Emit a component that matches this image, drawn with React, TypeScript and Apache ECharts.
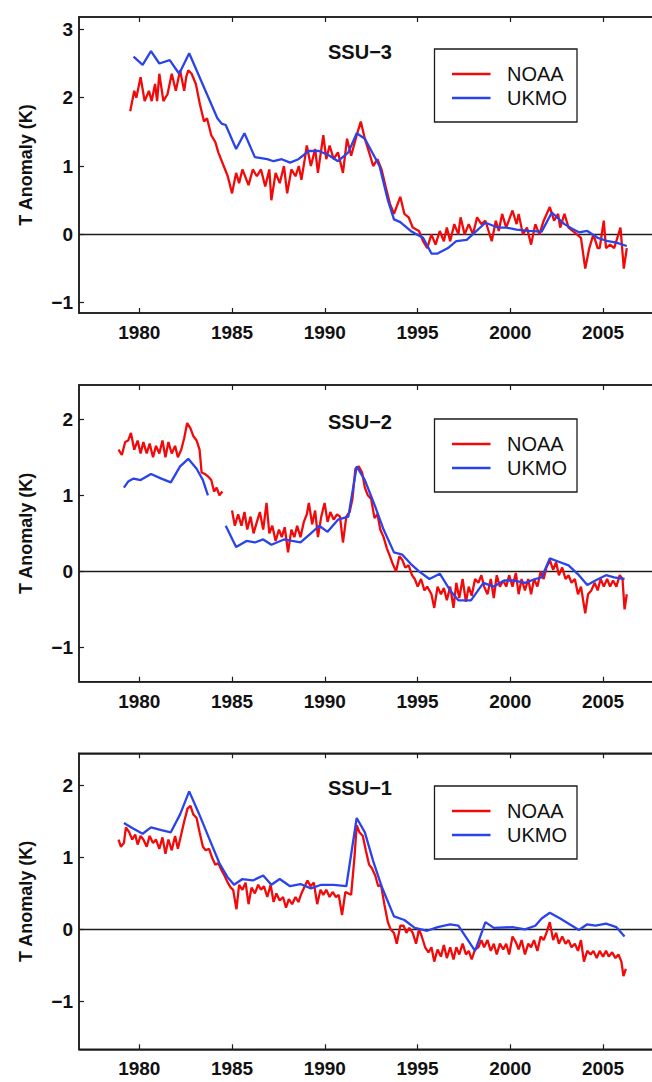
import React, { useEffect, useRef } from "react";
import * as echarts from "echarts";

// ---------- data ----------
const yearTicks = [1980, 1985, 1990, 1995, 2000, 2005];
const ssu3Ticks = [-1, 0, 1, 2, 3];
const ssu2Ticks = [-1, 0, 1, 2];
const ssu1Ticks = [-1, 0, 1, 2];
const panelTitles = ["SSU−3", "SSU−2", "SSU−1"];
const seriesNames = ["NOAA", "UKMO"];
const axisTitle = "T Anomaly (K)";

const ssu3Noaa: [number, number][] = [
  [1979.51, 1.8], [1979.73, 2.1], [1979.84, 2.0], [1980.07, 2.3], [1980.29, 1.95], [1980.52, 2.1], [1980.67, 1.95],
  [1980.85, 2.2], [1980.96, 1.95], [1981.08, 2.35], [1981.3, 1.95], [1981.52, 2.05], [1981.75, 2.35], [1981.97, 2.1],
  [1982.2, 2.4], [1982.42, 2.1], [1982.53, 2.3], [1982.64, 2.4], [1982.82, 2.35], [1983.05, 2.2], [1983.27, 1.9],
  [1983.49, 1.65], [1983.65, 1.7], [1983.88, 1.45], [1984.1, 1.35], [1984.26, 1.2], [1984.55, 1.0], [1984.77, 0.85],
  [1985.0, 0.6], [1985.22, 0.9], [1985.38, 0.75], [1985.56, 0.95], [1985.89, 0.72], [1986.12, 0.95], [1986.34, 0.85],
  [1986.56, 0.95], [1986.79, 0.7], [1987.01, 0.95], [1987.12, 0.5], [1987.35, 0.9], [1987.57, 0.75], [1987.8, 1.0],
  [1987.97, 0.6], [1988.2, 0.95], [1988.42, 0.85], [1988.6, 1.0], [1988.74, 0.8], [1988.92, 1.1], [1989.03, 1.3],
  [1989.25, 1.0], [1989.48, 1.25], [1989.63, 0.9], [1989.92, 1.45], [1990.08, 1.1], [1990.26, 1.3], [1990.48, 1.1],
  [1990.71, 1.2], [1990.98, 0.9], [1991.2, 1.4], [1991.42, 1.15], [1991.72, 1.45], [1991.94, 1.65], [1992.16, 1.4],
  [1992.39, 1.2], [1992.61, 1.0], [1992.84, 1.1], [1993.06, 0.95], [1993.28, 0.7], [1993.51, 0.45], [1993.73, 0.3],
  [1994.07, 0.55], [1994.29, 0.3], [1994.52, 0.25], [1994.74, 0.1], [1995.08, 0.05], [1995.3, -0.1], [1995.52, -0.2],
  [1995.75, 0.0], [1995.97, -0.15], [1996.2, 0.05], [1996.42, -0.1], [1996.58, 0.1], [1996.76, -0.1], [1996.98, 0.15],
  [1997.2, 0.0], [1997.32, 0.25], [1997.54, 0.0], [1997.76, 0.15], [1997.99, 0.0], [1998.21, 0.25], [1998.44, 0.15],
  [1998.66, 0.2], [1999.0, -0.1], [1999.22, 0.2], [1999.38, 0.05], [1999.56, 0.3], [1999.78, 0.1], [2000.12, 0.35],
  [2000.34, 0.15], [2000.45, 0.3], [2000.68, 0.0], [2000.9, 0.1], [2001.12, -0.15], [2001.35, 0.15], [2001.57, 0.0],
  [2001.8, 0.2], [2002.13, 0.4], [2002.36, 0.2], [2002.58, 0.3], [2002.69, 0.1], [2002.92, 0.3], [2003.14, 0.1],
  [2003.36, 0.05], [2003.59, 0.0], [2003.81, -0.05], [2004.04, -0.5], [2004.26, -0.2], [2004.48, 0.0], [2004.71, -0.2],
  [2004.82, -0.2], [2005.04, 0.2], [2005.16, -0.2], [2005.38, -0.15], [2005.6, -0.2], [2005.94, 0.1], [2006.12, -0.5],
  [2006.28, -0.2],
];

const ssu3Ukmo: [number, number][] = [
  [1979.69, 2.6], [1980.18, 2.48], [1980.63, 2.68], [1981.08, 2.5], [1981.64, 2.55], [1982.15, 2.35], [1982.69, 2.65],
  [1984.21, 1.7], [1984.44, 1.62], [1984.66, 1.6], [1985.22, 1.25], [1985.67, 1.48], [1986.23, 1.13], [1986.9, 1.1],
  [1987.24, 1.07], [1987.68, 1.1], [1988.13, 1.05], [1988.58, 1.1], [1989.14, 1.22], [1989.7, 1.22], [1990.26, 1.15],
  [1990.71, 1.07], [1991.27, 1.2], [1991.72, 1.48], [1992.16, 1.4], [1992.95, 1.0], [1993.4, 0.5], [1993.73, 0.22],
  [1994.07, 0.18], [1994.63, 0.05], [1994.96, 0.0], [1995.3, -0.05], [1995.75, -0.28], [1996.08, -0.28],
  [1996.64, -0.2], [1997.09, -0.1], [1997.65, -0.08], [1998.66, 0.17], [1999.33, 0.1], [1999.78, 0.1], [2000.34, 0.07],
  [2001.01, 0.05], [2001.69, 0.04], [2002.24, 0.32], [2002.92, 0.15], [2003.36, 0.08], [2003.7, 0.03], [2004.15, 0.05],
  [2004.71, -0.05], [2005.27, -0.1], [2005.72, -0.12], [2006.28, -0.17],
];

const ssu2NoaaEarly: [number, number][] = [
  [1978.88, 1.6], [1979.06, 1.53], [1979.24, 1.7], [1979.4, 1.72], [1979.55, 1.82], [1979.73, 1.6], [1979.91, 1.72],
  [1980.07, 1.55], [1980.22, 1.7], [1980.4, 1.55], [1980.56, 1.68], [1980.74, 1.5], [1980.9, 1.65], [1981.08, 1.55],
  [1981.25, 1.72], [1981.41, 1.5], [1981.57, 1.7], [1981.75, 1.55], [1981.93, 1.65], [1982.08, 1.5], [1982.26, 1.6],
  [1982.42, 1.75], [1982.58, 1.95], [1982.76, 1.88], [1982.91, 1.78], [1983.09, 1.72], [1983.25, 1.6], [1983.36, 1.3],
  [1983.54, 1.28], [1983.7, 1.25], [1983.88, 1.2], [1984.03, 1.05], [1984.17, 1.1], [1984.32, 1.0], [1984.48, 1.05],
];

const ssu2NoaaLate: [number, number][] = [
  [1985.0, 0.8], [1985.15, 0.6], [1985.33, 0.75], [1985.51, 0.6], [1985.67, 0.78], [1985.82, 0.55], [1986.0, 0.72],
  [1986.16, 0.5], [1986.34, 0.65], [1986.5, 0.78], [1986.68, 0.55], [1986.86, 0.9], [1987.01, 0.5], [1987.17, 0.6],
  [1987.35, 0.4], [1987.53, 0.55], [1987.68, 0.45], [1987.84, 0.58], [1988.02, 0.25], [1988.2, 0.55], [1988.36, 0.45],
  [1988.51, 0.6], [1988.69, 0.45], [1988.87, 0.65], [1989.03, 0.75], [1989.14, 0.9], [1989.32, 0.62], [1989.48, 0.8],
  [1989.63, 0.45], [1989.81, 0.72], [1989.99, 0.9], [1990.15, 0.65], [1990.3, 0.78], [1990.48, 0.68], [1990.66, 0.75],
  [1990.82, 0.72], [1990.98, 0.38], [1991.16, 0.72], [1991.34, 0.78], [1991.49, 0.95], [1991.65, 1.35], [1991.83, 1.38],
  [1992.01, 1.3], [1992.16, 1.1], [1992.32, 1.0], [1992.5, 0.95], [1992.68, 0.7], [1992.84, 0.75], [1992.99, 0.55],
  [1993.17, 0.45], [1993.35, 0.3], [1993.51, 0.2], [1993.66, 0.1], [1993.84, 0.0], [1994.02, 0.2], [1994.18, 0.15],
  [1994.34, 0.05], [1994.52, 0.08], [1994.7, -0.05], [1994.85, -0.1], [1995.01, -0.2], [1995.19, -0.1], [1995.37, -0.25],
  [1995.52, -0.2], [1995.75, -0.3], [1995.9, -0.48], [1996.08, -0.2], [1996.26, -0.3], [1996.42, -0.22], [1996.58, -0.38],
  [1996.76, -0.2], [1996.94, -0.48], [1997.09, -0.15], [1997.25, -0.35], [1997.43, -0.1], [1997.61, -0.4], [1997.76, -0.2],
  [1997.92, -0.32], [1998.1, -0.1], [1998.28, -0.15], [1998.44, -0.05], [1998.59, -0.2], [1998.77, -0.3], [1998.95, -0.1],
  [1999.11, -0.35], [1999.27, -0.05], [1999.44, -0.2], [1999.62, -0.12], [1999.78, -0.2], [1999.94, -0.05], [2000.12, -0.2],
  [2000.3, -0.02], [2000.45, -0.3], [2000.61, -0.1], [2000.79, -0.25], [2000.97, -0.1], [2001.12, -0.3], [2001.28, -0.1],
  [2001.46, -0.2], [2001.64, 0.0], [2001.8, -0.1], [2001.95, 0.05], [2002.13, 0.15], [2002.31, 0.02], [2002.47, 0.12],
  [2002.62, -0.05], [2002.8, 0.05], [2002.98, -0.1], [2003.14, -0.05], [2003.3, -0.15], [2003.48, -0.1], [2003.65, -0.3],
  [2003.81, -0.2], [2004.04, -0.55], [2004.19, -0.3], [2004.37, -0.25], [2004.55, -0.15], [2004.71, -0.25], [2004.87, -0.1],
  [2005.04, -0.2], [2005.22, -0.1], [2005.38, -0.2], [2005.54, -0.12], [2005.72, -0.2], [2005.9, -0.05], [2006.05, -0.1],
  [2006.16, -0.5], [2006.28, -0.3],
];

const ssu2UkmoEarly: [number, number][] = [
  [1979.17, 1.1], [1979.4, 1.18], [1979.69, 1.22], [1980.07, 1.2], [1980.63, 1.28], [1981.19, 1.22], [1981.7, 1.17],
  [1982.2, 1.38], [1982.64, 1.48], [1983.09, 1.35], [1983.43, 1.2], [1983.7, 1.0],
];

const ssu2UkmoLate: [number, number][] = [
  [1984.66, 0.6], [1985.22, 0.32], [1985.78, 0.4], [1986.23, 0.38], [1986.68, 0.42], [1987.12, 0.35], [1987.8, 0.42],
  [1988.24, 0.4], [1988.69, 0.38], [1989.25, 0.5], [1989.7, 0.6], [1990.15, 0.52], [1990.71, 0.68], [1991.27, 0.72],
  [1991.72, 1.38], [1992.16, 1.2], [1992.72, 0.85], [1993.17, 0.55], [1993.73, 0.25], [1994.18, 0.22], [1994.63, 0.1],
  [1995.08, 0.0], [1995.64, -0.1], [1996.2, -0.03], [1996.76, -0.25], [1997.2, -0.38], [1997.88, -0.38], [1998.55, -0.15],
  [1999.11, -0.2], [1999.67, -0.12], [2000.23, -0.12], [2000.79, -0.15], [2001.35, -0.1], [2001.69, -0.08], [2002.13, 0.17],
  [2002.58, 0.13], [2003.14, 0.08], [2003.7, -0.05], [2004.15, -0.18], [2004.59, -0.12], [2005.16, -0.05], [2005.6, -0.08],
  [2006.16, -0.1],
];

const ssu1Noaa: [number, number][] = [
  [1978.88, 1.25], [1979.01, 1.15], [1979.17, 1.2], [1979.28, 1.42], [1979.46, 1.35], [1979.62, 1.25], [1979.78, 1.32],
  [1979.91, 1.18], [1980.07, 1.3], [1980.22, 1.25], [1980.4, 1.15], [1980.56, 1.3], [1980.74, 1.2], [1980.9, 1.25],
  [1981.08, 1.12], [1981.25, 1.28], [1981.41, 1.05], [1981.57, 1.25], [1981.75, 1.1], [1981.93, 1.3], [1982.08, 1.12],
  [1982.24, 1.3], [1982.42, 1.5], [1982.6, 1.68], [1982.76, 1.72], [1982.91, 1.6], [1983.09, 1.55], [1983.25, 1.35],
  [1983.43, 1.15], [1983.58, 1.1], [1983.76, 1.12], [1983.92, 1.0], [1984.1, 0.9], [1984.26, 0.92], [1984.44, 0.82],
  [1984.59, 0.75], [1984.77, 0.65], [1984.93, 0.58], [1985.06, 0.55], [1985.24, 0.28], [1985.38, 0.62], [1985.56, 0.55],
  [1985.73, 0.65], [1985.89, 0.35], [1986.05, 0.58], [1986.23, 0.5], [1986.41, 0.62], [1986.56, 0.55], [1986.72, 0.6],
  [1986.9, 0.45], [1987.08, 0.62], [1987.24, 0.38], [1987.39, 0.5], [1987.57, 0.4], [1987.75, 0.45], [1987.91, 0.3],
  [1988.06, 0.42], [1988.24, 0.35], [1988.42, 0.45], [1988.58, 0.38], [1988.74, 0.5], [1988.92, 0.6], [1989.07, 0.68],
  [1989.23, 0.6], [1989.41, 0.65], [1989.59, 0.35], [1989.77, 0.55], [1989.92, 0.48], [1990.08, 0.55], [1990.26, 0.45],
  [1990.42, 0.52], [1990.6, 0.45], [1990.75, 0.48], [1990.93, 0.2], [1991.11, 0.52], [1991.27, 0.5], [1991.42, 0.48],
  [1991.6, 1.0], [1991.72, 1.45], [1991.87, 1.35], [1992.05, 1.3], [1992.21, 1.1], [1992.39, 0.9], [1992.54, 0.85],
  [1992.72, 0.75], [1992.88, 0.6], [1993.03, 0.62], [1993.21, 0.35], [1993.4, 0.1], [1993.55, 0.0], [1993.73, -0.05],
  [1993.88, -0.2], [1994.07, 0.05], [1994.25, 0.05], [1994.4, -0.05], [1994.56, 0.02], [1994.74, -0.05], [1994.92, -0.2],
  [1995.08, 0.0], [1995.23, -0.1], [1995.41, -0.25], [1995.59, -0.32], [1995.75, -0.25], [1995.9, -0.45], [1996.08, -0.28],
  [1996.26, -0.38], [1996.42, -0.22], [1996.58, -0.4], [1996.76, -0.25], [1996.94, -0.42], [1997.09, -0.25], [1997.25, -0.35],
  [1997.43, -0.2], [1997.61, -0.35], [1997.76, -0.3], [1997.92, -0.42], [1998.1, -0.28], [1998.28, -0.25], [1998.44, -0.15],
  [1998.59, -0.25], [1998.77, -0.15], [1998.95, -0.3], [1999.11, -0.2], [1999.27, -0.35], [1999.44, -0.2], [1999.62, -0.28],
  [1999.78, -0.2], [1999.94, -0.35], [2000.12, -0.1], [2000.3, -0.18], [2000.45, -0.28], [2000.61, -0.15], [2000.79, -0.35],
  [2000.97, -0.2], [2001.12, -0.25], [2001.28, -0.15], [2001.46, -0.3], [2001.64, -0.1], [2001.8, -0.15], [2001.95, -0.05],
  [2002.13, 0.1], [2002.31, -0.15], [2002.47, -0.05], [2002.62, -0.2], [2002.8, -0.1], [2002.98, -0.2], [2003.14, -0.15],
  [2003.3, -0.25], [2003.48, -0.2], [2003.65, -0.3], [2003.81, -0.15], [2003.97, -0.45], [2004.15, -0.3], [2004.33, -0.35],
  [2004.48, -0.3], [2004.66, -0.4], [2004.82, -0.3], [2005.0, -0.38], [2005.16, -0.3], [2005.31, -0.38], [2005.49, -0.32],
  [2005.67, -0.4], [2005.83, -0.35], [2005.99, -0.45], [2006.1, -0.65], [2006.23, -0.55],
];

const ssu1Ukmo: [number, number][] = [
  [1979.17, 1.48], [1979.69, 1.4], [1980.18, 1.33], [1980.63, 1.42], [1981.19, 1.38], [1981.7, 1.35], [1982.2, 1.6],
  [1982.69, 1.92], [1983.2, 1.62], [1983.76, 1.27], [1984.32, 0.92], [1984.77, 0.72], [1985.11, 0.62], [1985.56, 0.7],
  [1986.12, 0.68], [1986.68, 0.75], [1987.12, 0.62], [1987.57, 0.7], [1988.13, 0.6], [1988.69, 0.63], [1989.25, 0.57],
  [1989.81, 0.62], [1990.48, 0.62], [1991.16, 0.6], [1991.72, 1.55], [1992.16, 1.35], [1992.61, 0.95], [1993.06, 0.6],
  [1993.73, 0.18], [1994.29, 0.13], [1994.85, 0.02], [1995.52, -0.02], [1996.08, 0.03], [1996.76, 0.07], [1997.2, 0.05],
  [1998.1, -0.3], [1998.66, 0.1], [1999.11, 0.02], [2000.12, 0.03], [2000.79, 0.0], [2001.35, 0.05], [2001.69, 0.15],
  [2002.13, 0.23], [2002.69, 0.15], [2003.7, -0.01], [2004.15, 0.07], [2004.59, 0.05], [2005.16, 0.08], [2005.72, 0.03],
  [2006.16, -0.1],
];

// ---------- layout ----------
const RED = "#f20a0a";
const BLUE = "#2a44ea";
const FRAME = "#1c1c1c";
const FONT = "Liberation Sans";

const X_MIN = 1976.75;
const X_MAX = 2014.0;
const PX_PER_YEAR = 18.55;
const GRID_LEFT = 79;
const GRID_WIDTH = (X_MAX - X_MIN) * PX_PER_YEAR;

const TITLE_X = 360;
const LEG_X = 434.5;
const LEG_W = 142.5;

const panels = [
  {
    top: 17, height: 296, yMin: -1.15, yMax: 3.18, ticks: ssu3Ticks, title: panelTitles[0],
    red: [ssu3Noaa], blue: [ssu3Ukmo], titleY: 52, legendTop: 49,
  },
  {
    top: 385, height: 296.7, yMin: -1.45, yMax: 2.45, ticks: ssu2Ticks, title: panelTitles[1],
    red: [ssu2NoaaEarly, ssu2NoaaLate], blue: [ssu2UkmoEarly, ssu2UkmoLate], titleY: 422, legendTop: 419,
  },
  {
    top: 753.3, height: 296, yMin: -1.67, yMax: 2.45, ticks: ssu1Ticks, title: panelTitles[2],
    red: [ssu1Noaa], blue: [ssu1Ukmo], titleY: 788, legendTop: 786,
  },
];

const fmtMinus = (v: number) => String(v).replace("-", "−");
const fmtYear = (v: number) => String(Math.round(v));

export default function App() {
  const ref = useRef<HTMLDivElement>(null);

  useEffect(() => {
    if (!ref.current) return;
    const chart = echarts.init(ref.current, null, { renderer: "svg" });

    const grid: any[] = [];
    const xAxis: any[] = [];
    const yAxis: any[] = [];
    const series: any[] = [];
    const graphic: any[] = [];

    panels.forEach((p, i) => {
      grid.push({
        left: GRID_LEFT, top: p.top, width: GRID_WIDTH, height: p.height,
        outerBoundsMode: "none", containLabel: false,
        show: true, borderColor: FRAME, borderWidth: 1.5, backgroundColor: "transparent",
      });
      const baseX = {
        type: "value", gridIndex: i, min: X_MIN, max: X_MAX,
        splitLine: { show: false },
        axisLine: { show: true, onZero: false, lineStyle: { color: FRAME, width: 1.5 } },
        axisTick: { show: true, inside: true, length: 5, customValues: yearTicks, lineStyle: { color: FRAME, width: 1.2 } },
      };
      xAxis.push({
        ...baseX, position: "bottom",
        axisLabel: {
          show: true, customValues: yearTicks, margin: 10, color: "#111", formatter: fmtYear,
          fontFamily: FONT, fontWeight: "bold", fontSize: 19,
        },
      });
      xAxis.push({ ...baseX, position: "top", axisLabel: { show: false } });
      yAxis.push({
        type: "value", gridIndex: i, min: p.yMin, max: p.yMax, position: "left",
        splitLine: { show: false },
        axisLine: { show: true, onZero: false, lineStyle: { color: FRAME, width: 1.5 } },
        axisTick: { show: true, inside: true, length: 5, customValues: p.ticks, lineStyle: { color: FRAME, width: 1.2 } },
        axisLabel: {
          show: true, customValues: p.ticks, margin: 6, color: "#111",
          fontFamily: FONT, fontWeight: "bold", fontSize: 19, formatter: fmtMinus,
        },
        name: axisTitle, nameLocation: "middle", nameRotate: 90, nameGap: 44,
        nameTextStyle: { fontFamily: FONT, fontWeight: "bold", fontSize: 18, color: "#111" },
      });

      p.red.forEach((d, k) => {
        series.push({
          type: "line", name: seriesNames[0], xAxisIndex: i * 2, yAxisIndex: i, data: d,
          symbol: "none", lineStyle: { color: RED, width: 2.3 }, z: 3,
          markLine: k === 0 ? {
            silent: true, symbol: ["none", "none"], label: { show: false },
            lineStyle: { color: FRAME, width: 1.3, type: "solid" }, data: [{ yAxis: 0 }], z: 2,
          } : undefined,
        });
      });
      p.blue.forEach((d) => {
        series.push({
          type: "line", name: seriesNames[1], xAxisIndex: i * 2, yAxisIndex: i, data: d,
          symbol: "none", lineStyle: { color: BLUE, width: 2.3 }, z: 4,
        });
      });
      // empty series so the top axis (tick marks) of each panel is laid out
      series.push({
        type: "line", name: "_top" + i, xAxisIndex: i * 2 + 1, yAxisIndex: i, data: [],
        symbol: "none", silent: true,
      });

      graphic.push({
        type: "text", x: TITLE_X, y: p.titleY,
        style: { text: p.title, fontFamily: FONT, fontWeight: "bold", fontSize: 20, fill: "#111", align: "center", verticalAlign: "middle" },
      });
      const lt = p.legendTop;
      graphic.push({
        type: "rect", shape: { x: LEG_X, y: lt, width: LEG_W, height: 73 },
        style: { fill: "#fff", stroke: FRAME, lineWidth: 1.3 },
      });
      [RED, BLUE].forEach((c, j) => {
        const ly = lt + 25 + j * 24;
        graphic.push({
          type: "line", shape: { x1: LEG_X + 17.5, y1: ly, x2: LEG_X + 56, y2: ly },
          style: { stroke: c, lineWidth: 2.5 },
        });
        graphic.push({
          type: "text", x: LEG_X + 72.5, y: ly,
          style: { text: seriesNames[j], fontFamily: FONT, fontSize: 20, fill: "#111", align: "left", verticalAlign: "middle" },
        });
      });
    });

    chart.setOption({
      animation: false,
      backgroundColor: "#ffffff",
      grid, xAxis, yAxis, series, graphic,
    });

    return () => chart.dispose();
  }, []);

  return (
    <div style={{ position: "fixed", left: 0, top: 0, width: 652, height: 1082, overflow: "hidden", background: "#fff" }}>
      <div ref={ref} style={{ width: 800, height: 1082 }} />
    </div>
  );
}
